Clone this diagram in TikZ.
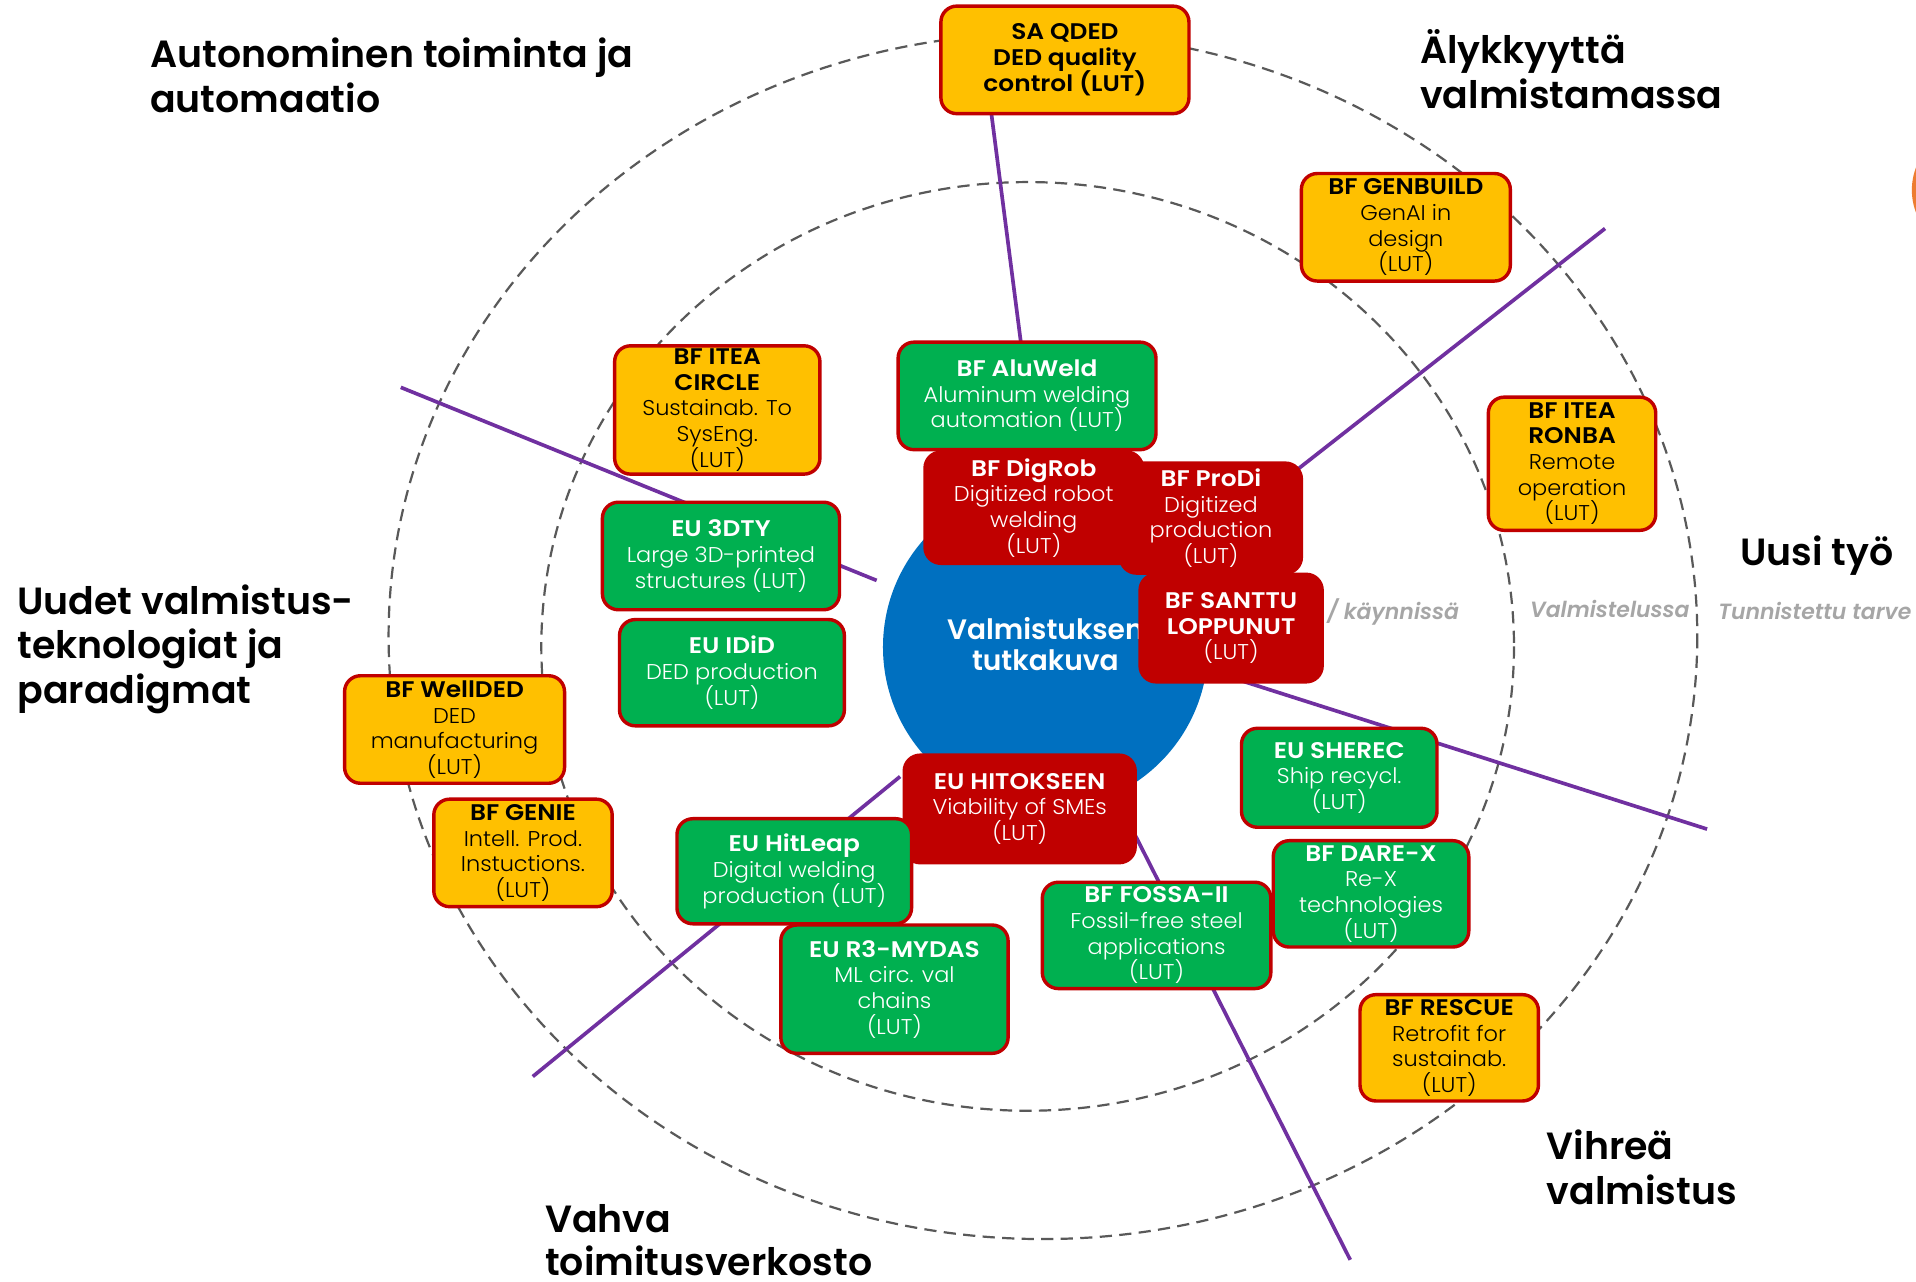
\documentclass[tikz,border=0pt]{standalone}
\usepackage{fontspec}
\setmainfont{Poppins}[UprightFont={* Light},BoldFont={* SemiBold},ItalicFont={* Light Italic},BoldItalicFont={* SemiBold Italic}]
\newfontfamily\bodyfont{Poppins}[UprightFont={* Light},FakeStretch=1.05]
\newfontfamily\titlefont{Poppins}[UprightFont={* SemiBold},FakeStretch=1.1]
\newcommand\boxtitle[1]{{\titlefont\fontsize{18.5}{21}\selectfont #1}}
\newcommand\tightlines{\lineskiplimit=-50pt\relax\lineskip=0pt\relax}
\definecolor{byellow}{HTML}{FFC000}
\definecolor{bgreen}{HTML}{00B050}
\definecolor{bred}{HTML}{C00000}
\definecolor{bblue}{HTML}{0070C0}
\definecolor{bpurple}{HTML}{7030A0}
\definecolor{dashgray}{HTML}{595959}
\definecolor{labgray}{HTML}{A6A6A6}
\definecolor{borange}{HTML}{ED7D31}
\tikzset{
 proj/.style={draw=bred, line width=2.8pt, rounded corners=13pt, inner sep=0pt, align=center, font=\bodyfont\fontsize{17.5}{21}\selectfont\tightlines},
 yel/.style={proj, fill=byellow, text=black},
 grn/.style={proj, fill=bgreen, text=white},
 rd/.style={proj, fill=bred, text=white},
 spoke/.style={draw=bpurple, line width=3pt},
 ring/.style={draw=dashgray, line width=1.8pt, dash pattern=on 10pt off 6pt},
 head/.style={anchor=base west, inner sep=0pt, font=\bfseries\fontsize{31}{36}\selectfont},
 stat/.style={anchor=base west, inner sep=0pt, text=labgray, font=\bfseries\itshape\fontsize{18}{21}\selectfont},
 hubtext/.style={anchor=base, inner sep=0pt, text=white, font=\bfseries\fontsize{23}{26}\selectfont},
}
\newcommand\projbox[7]{\node[#2, minimum width={(#5-#3)*1pt}, minimum height={(#6-#4)*1pt}] (#1) at ({(#3+#5)/2},{(#4+#6)/2}) {#7};}
\begin{document}
\begin{tikzpicture}[x=1pt,y=-1pt]
\useasboundingbox (0,0) rectangle (1568,1049);
\clip (0,0) rectangle (1568,1049);
\fill[white] (0,0) rectangle (1568,1049);
% orange partial circle at right edge
\fill[borange] (1616.6,155.5) circle[radius=52];
% rings
\draw[ring] (853.5,520.6) ellipse[x radius=535.5, y radius=493.4];
\draw[ring] (841,529) ellipse[x radius=398, y radius=380];
% spokes
\coordinate (s1a) at (809,75);      \coordinate (s1b) at (848.3,380);
\coordinate (s2a) at (328,317);     \coordinate (s2b) at (717.4,475);
\coordinate (s3a) at (1313.5,187);  \coordinate (s3b) at (1000,432.6);
\coordinate (s4a) at (1000,552);    \coordinate (s4b) at (1397,678.5);
\coordinate (s5a) at (436,881);     \coordinate (s5b) at (736.6,635.5);
\coordinate (s6a) at (919.6,665);   \coordinate (s6b) at (1105,1031);
\draw[spoke] (s1a) -- (s1b);
\draw[spoke] (s2a) -- (s2b);
\draw[spoke] (s3a) -- (s3b);
\draw[spoke] (s4a) -- (s4b);
\draw[spoke] (s5a) -- (s5b);
\draw[spoke] (s6a) -- (s6b);
% hub
\node[circle, fill=bblue, minimum size=266pt, inner sep=0pt] (hub) at (855.6,529.6) {};
\node[hubtext] (hubt1) at (855.5,523) {Valmistuksen};
\node[hubtext] (hubt2) at (855.5,548.5) {tutkakuva};
% boxes
\projbox{sa}{yel}{770}{5}{973}{93}{\boxtitle{SA QDED}\\\boxtitle{DED quality}\\\boxtitle{control (LUT)}}
\projbox{gen}{yel}{1065}{142}{1236}{230}{\boxtitle{BF GENBUILD}\\GenAI in\\design\\(LUT)}
\projbox{ronba}{yel}{1218}{325}{1355}{434}{\boxtitle{BF ITEA}\\\boxtitle{RONBA}\\Remote\\operation\\(LUT)}
\projbox{circ}{yel}{503}{283}{671}{388}{\boxtitle{BF ITEA}\\\boxtitle{CIRCLE}\\Sustainab. To\\SysEng.\\(LUT)}
\projbox{welded}{yel}{282}{553}{462}{641}{\boxtitle{BF WellDED}\\DED\\manufacturing\\(LUT)}
\projbox{genie}{yel}{355}{654}{501}{742}{\boxtitle{BF GENIE}\\Intell. Prod.\\Instuctions.\\(LUT)}
\projbox{rescue}{yel}{1113}{814}{1259}{901}{\boxtitle{BF RESCUE}\\Retrofit for\\sustainab.\\(LUT)}
\projbox{aluweld}{grn}{735}{280}{946}{368}{\boxtitle{BF AluWeld}\\Aluminum welding\\automation (LUT)}
\projbox{dty}{grn}{493}{411}{687}{499}{\boxtitle{EU 3DTY}\\Large 3D-printed\\structures (LUT)}
\projbox{idid}{grn}{507}{507}{691}{594}{\boxtitle{EU IDiD}\\DED production\\(LUT)}
\projbox{digrob}{rd}{757}{370}{935}{461}{\boxtitle{BF DigRob}\\Digitized robot\\welding\\(LUT)}
\projbox{prodi}{rd}{917}{379}{1065}{469}{\boxtitle{BF ProDi}\\Digitized\\production\\(LUT)}
\projbox{santtu}{rd}{933}{470}{1082}{558}{\boxtitle{BF SANTTU}\\\boxtitle{LOPPUNUT}\\(LUT)}
\projbox{hitok}{rd}{740}{618}{929}{706}{\boxtitle{EU HITOKSEEN}\\Viability of SMEs\\(LUT)}
\projbox{hitleap}{grn}{554}{670}{746}{756}{\boxtitle{EU HitLeap}\\Digital welding\\production (LUT)}
\projbox{mydas}{grn}{639}{757}{825}{862}{\boxtitle{EU R3-MYDAS}\\ML circ. val\\chains\\(LUT)}
\projbox{fossa}{grn}{853}{722}{1040}{809}{\boxtitle{BF FOSSA-II}\\Fossil-free steel\\applications\\(LUT)}
\projbox{sherec}{grn}{1016}{596}{1176}{677}{\boxtitle{EU SHEREC}\\Ship recycl.\\(LUT)}
\projbox{darex}{grn}{1042}{688}{1202}{775}{\boxtitle{BF DARE-X}\\Re-X\\technologies\\(LUT)}
% headings
\node[head] (h1a) at (122.7,55.5) {Autonominen toiminta ja};
\node[head] (h1b) at (122.7,91.9) {automaatio};
\node[head] (h2a) at (1162,51.8) {Älykkyyttä};
\node[head] (h2b) at (1162,88.5) {valmistamassa};
\node[head] (h3) at (1424,463) {Uusi työ};
\node[head] (h4a) at (14,502.6) {Uudet valmistus-};
\node[head] (h4b) at (14,539) {teknologiat ja};
\node[head] (h4c) at (14,575.6) {paradigmat};
\node[head] (h5a) at (446,1009) {Vahva};
\node[head] (h5b) at (446,1044) {toimitusverkosto};
\node[head] (h6a) at (1265.6,948.6) {Vihreä};
\node[head] (h6b) at (1265.6,985.4) {valmistus};
% status labels
\node[stat] (st1) at (1086,506.8) {/ käynnissä};
\node[stat] (st2) at (1252,505) {Valmistelussa};
\node[stat] (st3) at (1406,506.8) {Tunnistettu tarve};
\end{tikzpicture}
\end{document}
